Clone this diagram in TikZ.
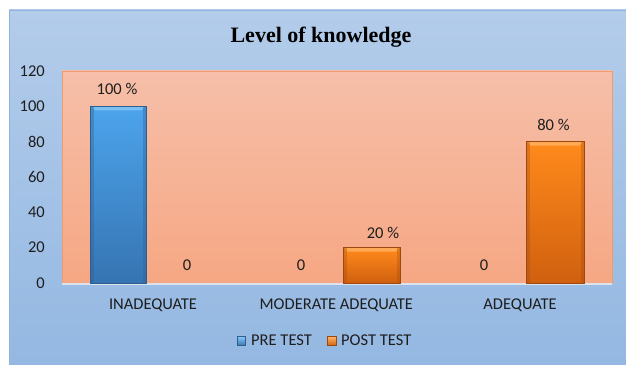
\documentclass[tikz,border=0pt]{standalone}
\usepackage{fontspec}
\setmainfont{Carlito}
\newfontfamily\titlefont{Liberation Serif}
\definecolor{panelTop}{HTML}{B3CCEA}
\definecolor{panelBot}{HTML}{94B8E2}
\definecolor{panelEdge}{HTML}{8FB3DE}
\definecolor{plotTop}{HTML}{F6BFA9}
\definecolor{plotBot}{HTML}{F6A783}
\definecolor{plotEdge}{HTML}{EE9C6E}
\definecolor{blueTop}{HTML}{4CA4EC}
\definecolor{blueBot}{HTML}{3674B2}
\definecolor{blueEdge}{HTML}{2D5E8E}
\definecolor{blueHi}{HTML}{86C6F4}
\definecolor{orTop}{HTML}{FF8A1C}
\definecolor{orBot}{HTML}{D0600F}
\definecolor{orEdge}{HTML}{9C4810}
\definecolor{orHi}{HTML}{FFB262}
\definecolor{txt}{HTML}{1E1E1E}
\definecolor{axisLine}{HTML}{DCE3EC}
\begin{document}
\begin{tikzpicture}[x=1pt,y=1pt,
  lbl/.style={font=\fontsize{16.5}{19}\selectfont, text=txt, inner sep=0pt},
  ticklbl/.style={lbl, anchor=east},
  datalbl/.style={lbl, anchor=base},
  catlbl/.style={lbl, anchor=base},
  leglbl/.style={lbl, anchor=base west},
  prebar/.style={top color=blueTop, bottom color=blueBot, draw=blueEdge, line width=0.8pt},
  postbar/.style={top color=orTop, bottom color=orBot, draw=orEdge, line width=0.8pt},
  prehi/.style={fill=blueHi, opacity=0.8},
  posthi/.style={fill=orHi, opacity=0.8}
]
\useasboundingbox (0,0) rectangle (626,364);
\fill[white] (0,0) rectangle (626,364);
% panel
\shade[top color=panelTop, bottom color=panelBot] (9,0) rectangle (626,354);
\draw[panelEdge, line width=0.8pt] (9.4,0) -- (9.4,353.6) -- (626,353.6);
% title
\node[font=\titlefont\bfseries\fontsize{22}{25}\selectfont, anchor=base, inner sep=0pt] (title) at (321,321) {Level of knowledge};
% plot area
\shade[top color=plotTop, bottom color=plotBot] (62,81) rectangle (612,293);
\draw[plotEdge, line width=0.6pt] (62,81) rectangle (612,293);
\draw[axisLine, line width=1.6pt] (62,80.2) -- (612,80.2);
% y tick labels
\foreach \v [count=\i from 0] in {0,20,40,60,80,100,120}
  \node[ticklbl] (tick\i) at (45,{81+\i*35.333}) {\v};
% bars
\shade[prebar] (90.5,81) rectangle (146,257.7);
\fill[prehi] (92,257.7) -- (144.5,257.7) -- (141.5,253.7) -- (95,253.7) -- cycle;
\fill[blueEdge, opacity=0.35] (90.5,81) rectangle (94,257.7);
\fill[blueEdge, opacity=0.35] (142.5,81) rectangle (146,257.7);
\draw[blueEdge, line width=0.8pt] (90.5,81) rectangle (146,257.7);

\shade[postbar] (343,81) rectangle (400.5,116.3);
\fill[posthi] (344.5,116.3) -- (399,116.3) -- (396,112.3) -- (347.5,112.3) -- cycle;
\fill[orEdge, opacity=0.3] (343,81) rectangle (346.5,116.3);
\fill[orEdge, opacity=0.3] (397,81) rectangle (400.5,116.3);
\draw[orEdge, line width=0.8pt] (343,81) rectangle (400.5,116.3);

\shade[postbar] (526,81) rectangle (584,222.3);
\fill[posthi] (527.5,222.3) -- (582.5,222.3) -- (579.5,218.3) -- (530.5,218.3) -- cycle;
\fill[orEdge, opacity=0.3] (526,81) rectangle (529.5,222.3);
\fill[orEdge, opacity=0.3] (580.5,81) rectangle (584,222.3);
\draw[orEdge, line width=0.8pt] (526,81) rectangle (584,222.3);
% data labels
\node[datalbl] (d1) at (117,269) {100 \%};
\node[datalbl] (d2) at (187,93.3) {0};
\node[datalbl] (d3) at (301,93.3) {0};
\node[datalbl] (d4) at (383,125.7) {20 \%};
\node[datalbl] (d5) at (484,93.3) {0};
\node[datalbl] (d6) at (553.5,233.3) {80 \%};
% category labels
\node[catlbl] (c1) at (153,55) {INADEQUATE};
\node[catlbl] (c2) at (336.3,55) {MODERATE ADEQUATE};
\node[catlbl] (c3) at (520,55) {ADEQUATE};
% legend
\shade[top color=blueHi, bottom color=blueBot, draw=blueEdge, line width=0.5pt] (237.3,18.3) rectangle (245.7,27.3);
\node[leglbl] (l1) at (251,19) {PRE TEST};
\shade[top color=orHi, bottom color=orBot, draw=orEdge, line width=0.5pt] (327.7,18.3) rectangle (336.3,27.3);
\node[leglbl] (l2) at (341,19) {POST TEST};
\end{tikzpicture}
\end{document}
